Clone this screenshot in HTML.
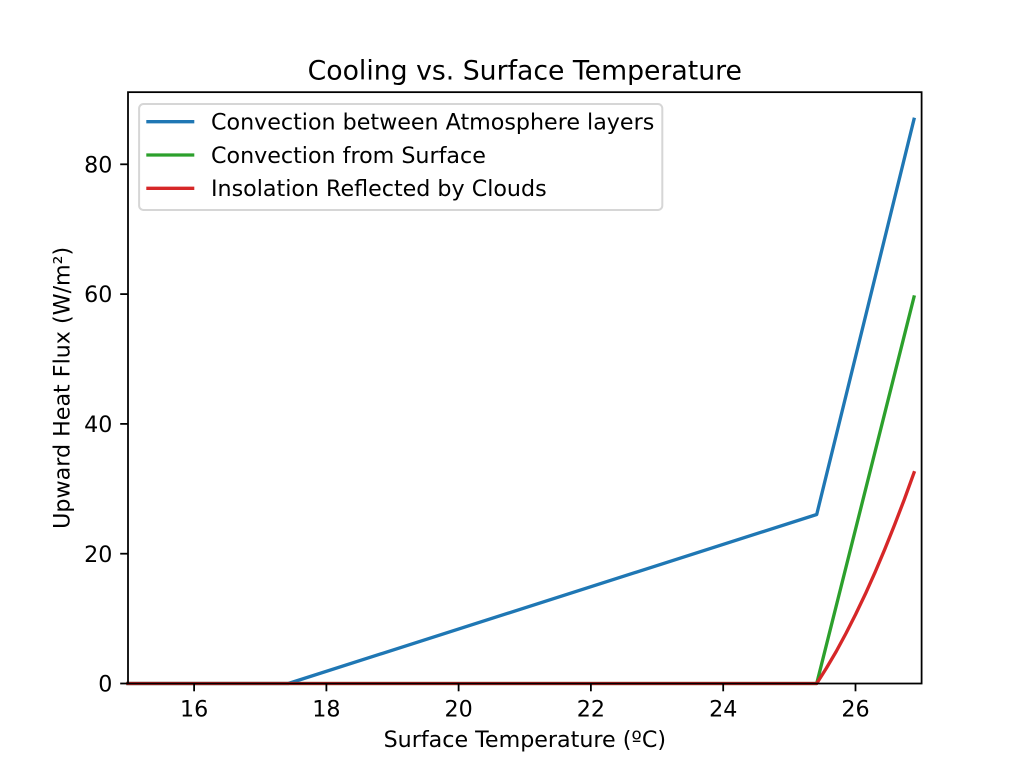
<!DOCTYPE html>
<html>
<head>
<meta charset="utf-8">
<style>
  html, body { margin: 0; padding: 0; background: #ffffff; }
  svg { display: block; }
  text { font-family: "DejaVu Sans", "Liberation Sans", sans-serif; fill: #000000; }
</style>
</head>
<body>
<svg width="1024" height="768" viewBox="0 0 1024 768" xmlns="http://www.w3.org/2000/svg">
  <rect x="0" y="0" width="1024" height="768" fill="#ffffff"/>

  <!-- Series -->
  <g fill="none" stroke-width="3.33" stroke-linejoin="round" stroke-linecap="square">
    <polyline stroke="#1f77b4" points="128,683.5 288.3,683.5 816.7,514.5 914,119.3"/>
    <polyline stroke="#2ca02c" points="128,683.5 816.7,683.5 914,297"/>
    <polyline stroke="#d62728" points="128,683.5 816.7,683.5 826.4,668.1 836.2,651.5 845.9,633.5 855.6,614.4 865.4,593.9 875.1,572.2 884.8,549.2 894.5,525.0 904.3,499.5 914,472.7"/>
  </g>

  <!-- Axes frame -->
  <rect x="128" y="92.16" width="793.6" height="591.36" fill="none" stroke="#000000" stroke-width="1.78"/>

  <!-- X ticks -->
  <g stroke="#000000" stroke-width="1.78">
    <line x1="194.1" y1="683.5" x2="194.1" y2="691.3"/>
    <line x1="326.4" y1="683.5" x2="326.4" y2="691.3"/>
    <line x1="458.6" y1="683.5" x2="458.6" y2="691.3"/>
    <line x1="590.9" y1="683.5" x2="590.9" y2="691.3"/>
    <line x1="723.2" y1="683.5" x2="723.2" y2="691.3"/>
    <line x1="855.5" y1="683.5" x2="855.5" y2="691.3"/>
  </g>
  <g font-size="22.2" text-anchor="middle">
    <text x="194.1" y="716.7">16</text>
    <text x="326.4" y="716.7">18</text>
    <text x="458.6" y="716.7">20</text>
    <text x="590.9" y="716.7">22</text>
    <text x="723.2" y="716.7">24</text>
    <text x="855.5" y="716.7">26</text>
  </g>

  <!-- Y ticks -->
  <g stroke="#000000" stroke-width="1.78">
    <line x1="120.2" y1="683.5" x2="128" y2="683.5"/>
    <line x1="120.2" y1="553.7" x2="128" y2="553.7"/>
    <line x1="120.2" y1="423.9" x2="128" y2="423.9"/>
    <line x1="120.2" y1="294.1" x2="128" y2="294.1"/>
    <line x1="120.2" y1="164.3" x2="128" y2="164.3"/>
  </g>
  <g font-size="22.2" text-anchor="end">
    <text x="112.4" y="691.6">0</text>
    <text x="112.4" y="561.8">20</text>
    <text x="112.4" y="432.0">40</text>
    <text x="112.4" y="302.2">60</text>
    <text x="112.4" y="172.4">80</text>
  </g>

  <!-- Axis labels -->
  <text x="524.8" y="747" font-size="22.2" text-anchor="middle">Surface Temperature (ºC)</text>
  <text transform="translate(69.5,387.8) rotate(-90)" x="0" y="0" font-size="22.2" text-anchor="middle">Upward Heat Flux (W/m²)</text>

  <!-- Title -->
  <text x="524.8" y="79.5" font-size="26.7" text-anchor="middle">Cooling vs. Surface Temperature</text>

  <!-- Legend -->
  <rect x="139.1" y="104" width="523.2" height="106" rx="4.4" ry="4.4" fill="#ffffff" fill-opacity="0.8" stroke="#d6d6d6" stroke-width="2"/>
  <g stroke-width="3.33" stroke-linecap="butt">
    <line x1="146.3" y1="121.7" x2="194.3" y2="121.7" stroke="#1f77b4"/>
    <line x1="146.3" y1="155" x2="194.3" y2="155" stroke="#2ca02c"/>
    <line x1="146.3" y1="188.3" x2="194.3" y2="188.3" stroke="#d62728"/>
  </g>
  <g font-size="22.2">
    <text x="211" y="129.5">Convection between Atmosphere layers</text>
    <text x="211" y="162.8">Convection from Surface</text>
    <text x="211" y="196.1">Insolation Reflected by Clouds</text>
  </g>
</svg>
</body>
</html>
